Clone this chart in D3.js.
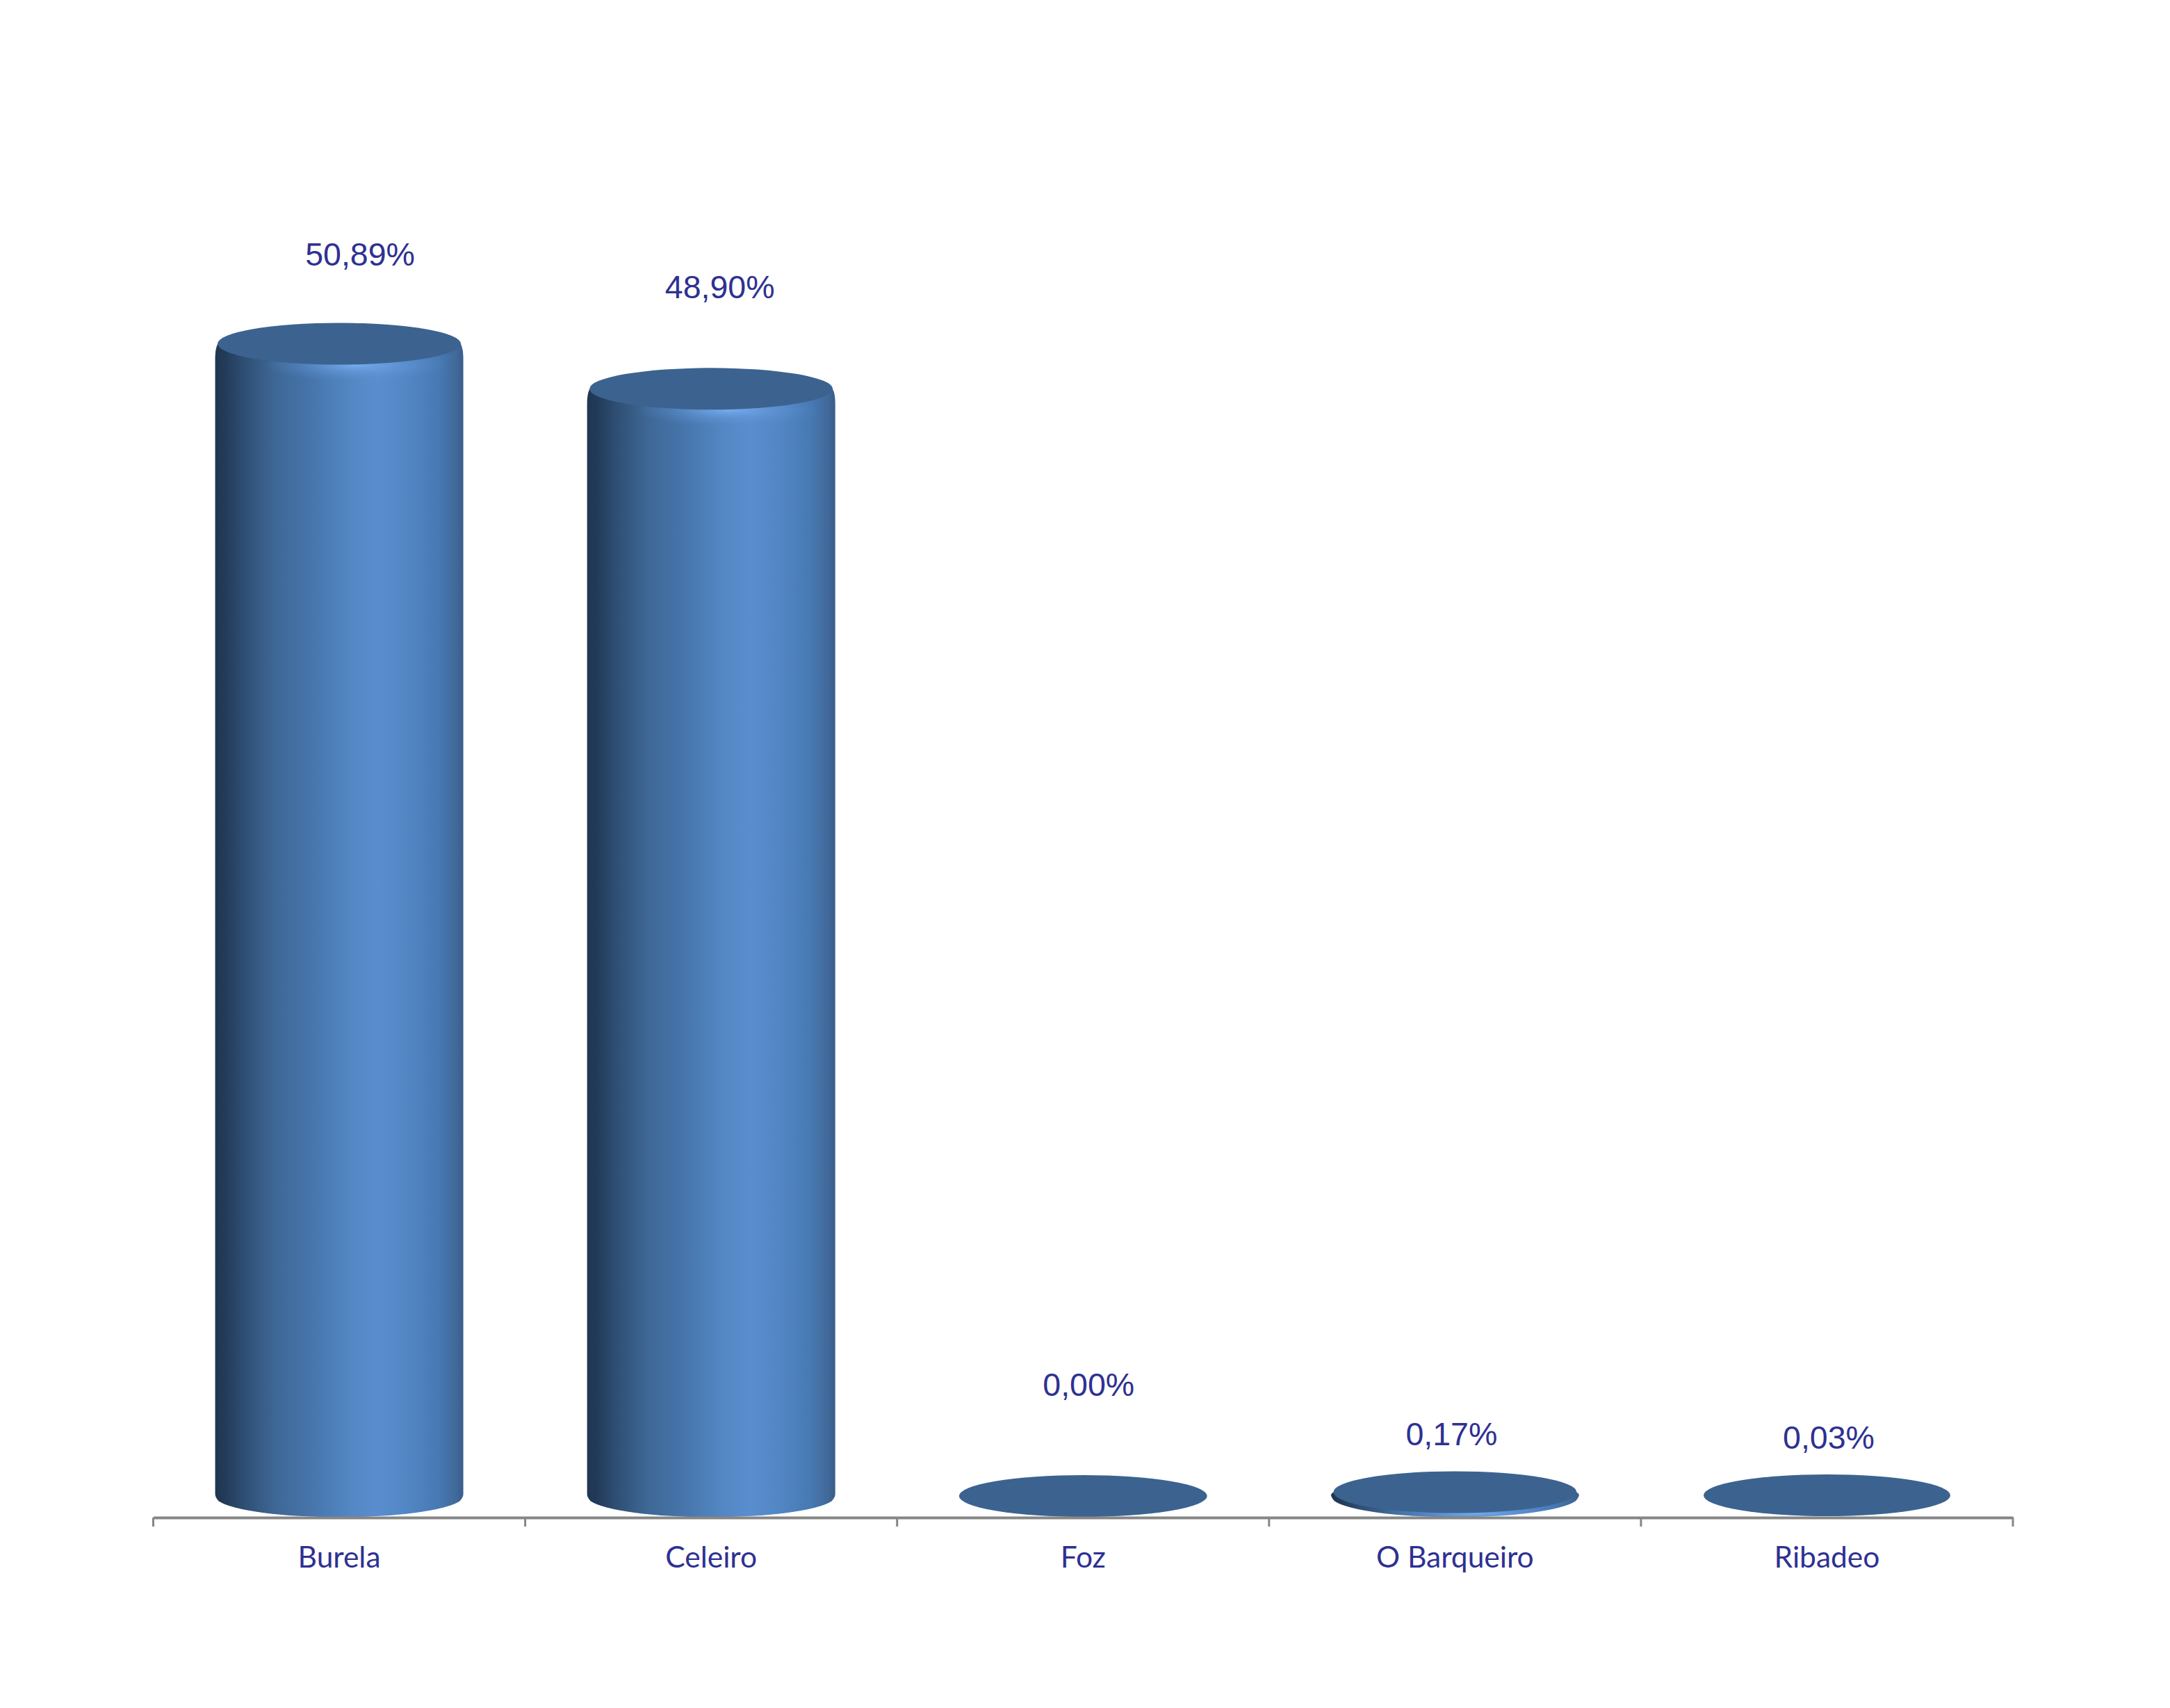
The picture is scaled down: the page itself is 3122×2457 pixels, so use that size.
<!DOCTYPE html>
<html>
<head>
<meta charset="utf-8">
<script src="https://cdn.jsdelivr.net/npm/d3@7/dist/d3.min.js"></script>
<style>html,body{margin:0;padding:0;background:#fff}svg{display:block}</style>
</head>
<body>
<svg id="chart" width="3122" height="2457"></svg>
<script>
const categories = ["Burela", "Celeiro", "Foz", "O Barqueiro", "Ribadeo"];
const values = [50.89, 48.90, 0.00, 0.17, 0.03];
const valueLabels = ["50,89%", "48,90%", "0,00%", "0,17%", "0,03%"];

// Layout only: the reference's hand-placed value labels
const labelCenterOffset = [30, 12.5, 8, -5, 2.5];
const labelBaselines = [382, 429, 2008, 2079, 2084];

const W = 3122, H = 2457;
const axisY = 2183, baseY = 2152, ry = 30.5;
const svg = d3.select("#chart").attr("viewBox", `0 0 ${W} ${H}`);

const x = d3.scaleBand().domain(categories).range([220.5, 2896]);
const y = d3.scaleLinear().domain([0, 60]).range([baseY, baseY - 60 * 32.57]);
const rx = 178.5;

const defs = svg.append("defs");
const body = defs.append("linearGradient").attr("id", "body").attr("x1", 0).attr("x2", 1).attr("y1", 0).attr("y2", 0);
[[0, "#1f3650"], [0.04, "#223b59"], [0.12, "#2f4f74"], [0.24, "#3e6795"], [0.38, "#4674aa"],
 [0.55, "#5388c4"], [0.66, "#5a8dcf"], [0.80, "#5084c1"], [0.90, "#4779b3"], [0.97, "#41699a"], [1, "#3a5d8a"]]
  .forEach(([o, c]) => body.append("stop").attr("offset", o).attr("stop-color", c));
const glow = defs.append("radialGradient").attr("id", "glow");
[[0, "#76aef0", 0.95], [0.45, "#6a9fe0", 0.45], [1, "#5a8dcf", 0]]
  .forEach(([o, c, a]) => glow.append("stop").attr("offset", o).attr("stop-color", c).attr("stop-opacity", a));

function cylinderPath(cx, topY) {
  const h = baseY - topY;
  const c = Math.min(22, h);          // rounded shoulder at the top
  const sx = Math.min(6, 1 + h);
  const dx = rx - 5;
  const dy = ry * Math.sqrt(1 - (dx / rx) ** 2);
  const p = d3.path();
  p.moveTo(cx - rx, topY + c);
  p.quadraticCurveTo(cx - rx, topY + c * 0.1, cx - rx + sx, topY - c * 0.1);
  p.lineTo(cx + rx - sx, topY - c * 0.1);
  p.quadraticCurveTo(cx + rx, topY + c * 0.1, cx + rx, topY + c);
  p.lineTo(cx + rx, baseY - 3);
  p.quadraticCurveTo(cx + rx, baseY + 2, cx + dx, baseY + dy);
  let s = p.toString();
  s += `A${rx},${ry} 0 0 1 ${cx - dx},${baseY + dy}`;
  s += `Q${cx - rx},${baseY + 2} ${cx - rx},${baseY - 3}Z`;
  return s;
}

const bars = svg.append("g").selectAll("g").data(categories).join("g");

bars.each(function (cat, i) {
  const g = d3.select(this);
  const cx = x(cat) + x.bandwidth() / 2;
  const topY = y(values[i]);
  const h = baseY - topY;
  const clipId = "clip" + i;
  if (h > 1.5) {
    defs.append("clipPath").attr("id", clipId).append("path").attr("d", cylinderPath(cx, topY));
    g.append("path").attr("d", cylinderPath(cx, topY)).attr("fill", "url(#body)");
    g.append("ellipse").attr("clip-path", `url(#${clipId})`)
      .attr("cx", cx + 25).attr("cy", topY + ry)
      .attr("rx", rx * 0.75).attr("ry", Math.min(24, 8 + h))
      .attr("fill", "url(#glow)");
  }
  const inset = Math.min(3.5, h);
  g.append("ellipse")
    .attr("cx", cx).attr("cy", topY)
    .attr("rx", rx - inset).attr("ry", ry - 0.5)
    .attr("fill", "#3c6390");
});

// Axis: labels from the band scale, ticks at the band edges
const axis = svg.append("g").attr("transform", `translate(0,${axisY})`)
  .call(d3.axisBottom(x).tickSize(0).tickPadding(42));
axis.select(".domain").attr("stroke", "#868686").attr("stroke-width", 4);
axis.selectAll(".tick text")
  .attr("font-family", "Lato, 'Noto Sans', sans-serif")
  .attr("font-size", 42.5)
  .attr("fill", "#2e3192");

const edges = categories.map(c => x(c)).concat(x.range()[1]);
axis.selectAll(".edge").data(edges).join("line").attr("class", "edge")
  .attr("x1", d => d).attr("x2", d => d).attr("y1", 0).attr("y2", 13)
  .attr("stroke", "#868686").attr("stroke-width", 3);

svg.append("g").selectAll("text").data(categories).join("text")
  .attr("x", (c, i) => x(c) + x.bandwidth() / 2 + labelCenterOffset[i])
  .attr("y", (c, i) => labelBaselines[i])
  .attr("text-anchor", "middle")
  .attr("font-family", "'Liberation Sans', Arial, sans-serif")
  .attr("font-size", 46.5)
  .attr("fill", "#2e3192")
  .text((c, i) => valueLabels[i]);
</script>
</body>
</html>
